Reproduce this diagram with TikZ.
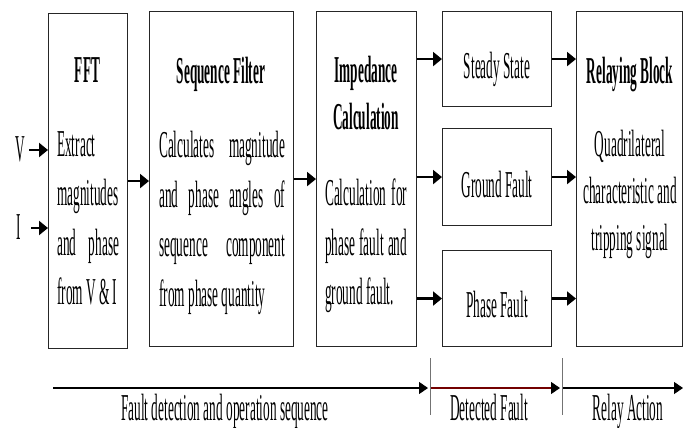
\documentclass[tikz,border=0pt]{standalone}
\usepackage{fontspec}
\setmainfont{Liberation Serif}[FakeStretch=0.35]
\usetikzlibrary{arrows.meta,calc}
\begin{document}
\begin{tikzpicture}[x=1pt,y=-1pt,
  every node/.style={font=\fontsize{38}{49.5}\selectfont, inner sep=0pt},
  box/.style={draw=black!85, line width=1.1pt, anchor=north west},
  ttl/.style={font=\fontsize{38}{47}\selectfont\bfseries, align=center, anchor=north},
  body/.style={anchor=north west, align=justify},
  arr/.style={line width=2.2pt, -{Triangle[length=9pt,width=14pt]}},
  tlarr/.style={line width=1.3pt, -{Triangle[length=9pt,width=12pt,color=black]}},
  tick/.style={draw=black!55, line width=0.8pt},
]
\useasboundingbox (0,0) rectangle (683,428);
% boxes
\node[box, minimum width=79pt,  minimum height=335pt] (fft) at (48,13) {};
\node[box, minimum width=144pt, minimum height=335pt] (sf)  at (149,11) {};
\node[box, minimum width=100pt, minimum height=335pt] (imp) at (316,11) {};
\node[box, minimum width=109pt, minimum height=95pt]  (st)  at (442,11) {};
\node[box, minimum width=109pt, minimum height=97pt]  (gf)  at (442,128) {};
\node[box, minimum width=109pt, minimum height=96pt]  (pf)  at (442,250) {};
\node[box, minimum width=106pt, minimum height=335pt] (rb)  at (576,11) {};
% titles
\node[ttl] (fftT) at (87.5,57) {FFT};
\node[ttl] (sfT)  at (221,57) {Sequence Filter};
\node[ttl] (impT) at (366,56) {Impedance\\Calculation};
\node[ttl] (rbT)  at (630,57) {Relaying Block};
% bodies
\node[body, text width=62pt] (fftB) at (57,131) {Extract\linebreak magnitudes\linebreak and phase\linebreak from V \& I};
\node[body, text width=126pt] (sfB) at (159,131) {Calculates magnitude\linebreak and phase angles of\linebreak sequence component\linebreak from phase quantity};
\node[body, text width=82pt] (impB) at (325,179) {Calculation for\linebreak phase fault and\linebreak ground fault.};
\node[align=center, anchor=north, font=\fontsize{38}{47}\selectfont] (rbB) at (630,130) {Quadrilateral\\characteristic and\\tripping signal};
% state labels
\node[anchor=base] (stT) at ($(st.center)+(0,19)$) {Steady State};
\node[anchor=base] (gfT) at ($(gf.center)+(0,20)$) {Ground Fault};
\node[anchor=base] (pfT) at ($(pf.center)+(0,19)$) {Phase Fault};
% inputs
\node[anchor=base] (V) at (20,161) {V};
\node[anchor=base] (I) at (19,239) {I};
\coordinate (v0) at (29,150);
\coordinate (i0) at (31,228);
\draw[arr] (v0) -- (v0 -| fft.west);
\draw[arr] (i0) -- (i0 -| fft.west);
% connectors
\draw[arr] (fft.east) -- (fft.east -| sf.west);
\draw[arr] (sf.east) -- (sf.east -| imp.west);
\draw[arr] (imp.east |- st.west) -- (st.west);
\draw[arr] (imp.east |- gf.west) -- (gf.west);
\draw[arr] (imp.east |- pf.west) -- (pf.west);
\draw[arr] (st.east) -- (st.east -| rb.west);
\draw[arr] (gf.east) -- (gf.east -| rb.west);
\draw[arr] (pf.east) -- (pf.east -| rb.west);
% timeline
\coordinate (a0) at (53,388);
\coordinate (a1) at (430,388);
\coordinate (a2) at (562,388);
\coordinate (a3) at (683,388);
\coordinate (k1t) at (430,358);
\coordinate (k1b) at (430,415);
\coordinate (k2t) at (562,358);
\coordinate (k2b) at (562,415);
\draw[tlarr, shorten >=2pt] (a0) -- (a1);
\draw[tlarr, draw=red!45!black, shorten >=2pt] (a1) -- (a2);
\draw[tlarr] (a2) -- (a3);
\draw[tick] (k1t) -- (k1b);
\draw[tick] (k2t) -- (k2b);
\node[anchor=base] (lab1) at (225,420) {Fault detection and operation sequence};
\node[anchor=base] (lab2) at (489,420) {Detected Fault};
\node[anchor=base] (lab3) at (628,420) {Relay Action};
\end{tikzpicture}
\end{document}
